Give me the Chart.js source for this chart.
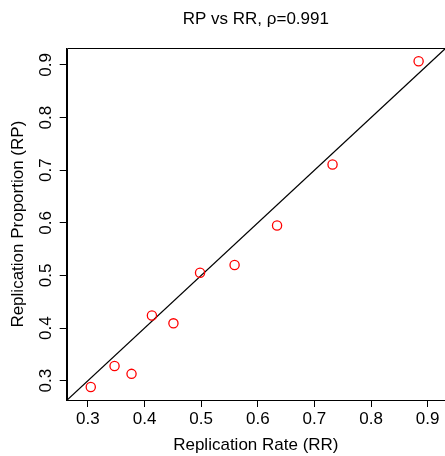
<!DOCTYPE html>
<html>
<head>
<meta charset="utf-8">
<script src="https://cdn.jsdelivr.net/npm/chart.js@4.4.1/dist/chart.umd.min.js"></script>
<style>
  html, body { margin: 0; padding: 0; background: #fff; }
  #wrap { width: 445px; height: 456px; position: relative; }
</style>
</head>
<body>
<div id="wrap"><canvas id="c"></canvas></div>
<script>
// ---- data ----
const titleText = "RP vs RR, \u03C1=0.991";
const xLabel = "Replication Rate (RR)";
const yLabel = "Replication Proportion (RP)";
const rrValues = [0.305, 0.347, 0.377, 0.413, 0.451, 0.498, 0.559, 0.634, 0.732, 0.884];
const rpValues = [0.288, 0.328, 0.313, 0.424, 0.409, 0.505, 0.520, 0.595, 0.711, 0.907];
const xTicks = [0.3, 0.4, 0.5, 0.6, 0.7, 0.8, 0.9];
const yTicks = [0.3, 0.4, 0.5, 0.6, 0.7, 0.8, 0.9];
const identityLine = [0.2, 1.0]; // y = x reference line endpoints
const xRange = [0.2625, 0.9306];
const yRange = [0.2633, 0.9317];

const FONT = "'Liberation Sans', Arial, Helvetica, sans-serif";
const FS = 17;

const boxPlugin = {
  id: 'boxAndTitle',
  afterDraw(chart) {
    const { ctx, chartArea: a } = chart;
    ctx.save();
    ctx.strokeStyle = '#000';
    ctx.lineWidth = 1;
    ctx.beginPath();
    ctx.moveTo(Math.round(a.left) + 0.5, Math.round(a.bottom) + 0.5);
    ctx.lineTo(Math.round(a.left) + 0.5, Math.round(a.top) + 0.5);
    ctx.lineTo(a.right + 2, Math.round(a.top) + 0.5);
    ctx.stroke();
    ctx.fillStyle = '#000';
    ctx.font = FS + 'px ' + FONT;
    ctx.textAlign = 'center';
    ctx.textBaseline = 'middle';
    ctx.fillText(titleText, (a.left + a.right) / 2, 19);
    ctx.restore();
  }
};

new Chart(document.getElementById('c'), {
  type: 'scatter',
  data: {
    datasets: [
      {
        label: 'points',
        data: rrValues.map((x, i) => ({ x: x, y: rpValues[i] })),
        pointStyle: 'circle',
        pointRadius: 4.6,
        pointBorderWidth: 1.3,
        pointBackgroundColor: 'rgba(0,0,0,0)',
        pointBorderColor: '#ff0000',
        showLine: false
      },
      {
        label: 'y=x',
        data: identityLine.map(v => ({ x: v, y: v })),
        showLine: true,
        borderColor: '#000',
        borderWidth: 1.2,
        pointRadius: 0,
        fill: false
      }
    ]
  },
  options: {
    responsive: true,
    maintainAspectRatio: false,
    animation: false,
    devicePixelRatio: 1,
    layout: { autoPadding: false, padding: { top: 48.3, left: 0, right: 0, bottom: 0 } },
    plugins: {
      legend: { display: false },
      title: { display: false },
      tooltip: { enabled: false }
    },
    scales: {
      x: {
        type: 'linear',
        position: 'bottom',
        min: xRange[0],
        max: xRange[1],
        afterBuildTicks: s => { s.ticks = xTicks.map(v => ({ value: v })); },
        afterFit: s => { s.height = 56; s.paddingLeft = 0; s.paddingRight = 0; },
        grid: { display: true, drawOnChartArea: false, drawTicks: true, tickLength: 7, color: '#000', lineWidth: 1 },
        border: { display: true, color: '#000', width: 1 },
        ticks: {
          color: '#000',
          font: { family: FONT, size: FS },
          padding: 2.5,
          maxRotation: 0,
          minRotation: 0,
          callback: v => v.toFixed(1)
        },
        title: {
          display: true,
          text: xLabel,
          color: '#000',
          font: { family: FONT, size: FS },
          padding: { top: 0, bottom: 0 }
        }
      },
      y: {
        type: 'linear',
        position: 'left',
        min: yRange[0],
        max: yRange[1],
        afterBuildTicks: s => { s.ticks = yTicks.map(v => ({ value: v })); },
        afterFit: s => { s.width = 66.7; s.paddingTop = 0; s.paddingBottom = 0; },
        grid: { display: true, drawOnChartArea: false, drawTicks: true, tickLength: 7, color: '#000', lineWidth: 1 },
        border: { display: true, color: '#000', width: 1 },
        ticks: {
          color: '#000',
          font: { family: FONT, size: FS },
          padding: 1.5,
          minRotation: 90,
          maxRotation: 90,
          crossAlign: 'center',
          callback: v => v.toFixed(1)
        },
        title: {
          display: true,
          text: yLabel,
          color: '#000',
          font: { family: FONT, size: FS },
          padding: { top: 7.8, bottom: 0 }
        }
      }
    }
  },
  plugins: [boxPlugin]
});
</script>
</body>
</html>
